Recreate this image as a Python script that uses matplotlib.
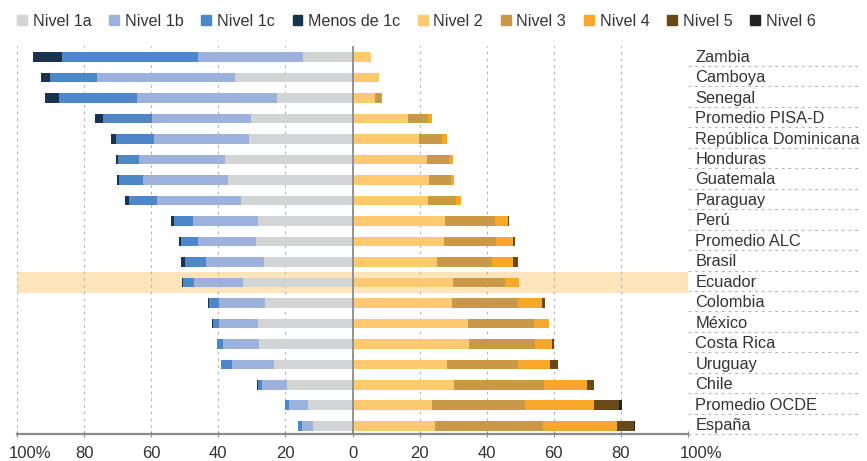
import numpy as np
import matplotlib
matplotlib.use("Agg")
import matplotlib.pyplot as plt
import matplotlib.transforms as mtransforms
from matplotlib.patches import Patch

plt.rcParams['font.family'] = ['Liberation Sans', 'DejaVu Sans']

# ----> Data <----
countries = ['Zambia', 'Camboya', 'Senegal', 'Promedio PISA-D', 'República Dominicana',
             'Honduras', 'Guatemala', 'Paraguay', 'Perú', 'Promedio ALC', 'Brasil',
             'Ecuador', 'Colombia', 'México', 'Costa Rica', 'Uruguay', 'Chile',
             'Promedio OCDE', 'España']

# below level 2 (drawn to the left)
nivel_1a = [14.7, 34.9, 22.4, 30.4, 30.8, 38.0, 37.1, 33.2, 28.2, 28.8, 26.4, 32.6, 26.1, 28.3, 28.0, 23.4, 19.5, 13.4, 11.9]
nivel_1b = [31.5, 41.4, 41.7, 29.3, 28.4, 25.7, 25.3, 25.1, 19.3, 17.2, 17.4, 14.7, 13.8, 11.5, 10.7, 12.6, 7.6, 5.5, 3.3]
nivel_1c = [40.5, 13.9, 23.5, 14.6, 11.4, 6.2, 7.2, 8.3, 5.8, 5.0, 6.2, 3.1, 2.9, 1.9, 1.6, 3.1, 1.2, 1.1, 1.0]
menos_1c = [8.5, 2.5, 4.0, 2.5, 1.5, 0.6, 0.5, 1.2, 0.7, 0.6, 1.0, 0.3, 0.2, 0.1, 0.1, 0.2, 0.1, 0.1, 0.1]

# level 2 and above (drawn to the right)
nivel_2 = [5.4, 7.8, 6.7, 16.5, 19.8, 22.1, 22.7, 22.5, 27.5, 27.2, 25.2, 30.0, 29.5, 34.5, 34.8, 28.2, 30.2, 23.6, 24.7]
nivel_3 = [0.0, 0.0, 2.2, 5.9, 6.9, 6.6, 6.7, 8.4, 15.0, 15.5, 16.3, 15.3, 19.9, 19.6, 19.5, 21.2, 26.9, 27.9, 32.1]
nivel_4 = [0.0, 0.0, 0.0, 1.2, 1.5, 1.3, 0.7, 1.5, 3.7, 5.2, 6.4, 4.4, 7.2, 4.4, 5.2, 9.4, 12.8, 20.6, 21.9]
nivel_5 = [0.0, 0.0, 0.0, 0.0, 0.0, 0.0, 0.0, 0.0, 0.4, 0.6, 1.4, 0.0, 0.7, 0.2, 0.4, 2.5, 2.0, 7.2, 5.2]
nivel_6 = [0.0, 0.0, 0.0, 0.0, 0.0, 0.0, 0.0, 0.0, 0.0, 0.0, 0.0, 0.0, 0.0, 0.0, 0.0, 0.0, 0.0, 1.0, 0.2]

highlight = 'Ecuador'
x_ticks = [-100, -80, -60, -40, -20, 0, 20, 40, 60, 80, 100]
x_tick_labels = ['100%', '80', '60', '40', '20', '0', '20', '40', '60', '80', '100%']

left_series = [('Nivel 1a', nivel_1a, '#D3D4D6'),
               ('Nivel 1b', nivel_1b, '#9CB2DD'),
               ('Nivel 1c', nivel_1c, '#4E87C7'),
               ('Menos de 1c', menos_1c, '#19324D')]
right_series = [('Nivel 2', nivel_2, '#FFC970'),
                ('Nivel 3', nivel_3, '#C99947'),
                ('Nivel 4', nivel_4, '#F9A72A'),
                ('Nivel 5', nivel_5, '#684A1A'),
                ('Nivel 6', nivel_6, '#222222')]

# ----> Chart <----
fig = plt.figure(figsize=(8.67, 4.61), dpi=100)
ax = fig.add_axes([0.0196, 0.0586, 0.774, 0.842])

y = np.arange(len(countries))
bar_h = 0.47

# highlight band
hi = countries.index(highlight)
ax.axhspan(hi - 0.5, hi + 0.5, xmin=0, xmax=1, color='#FDE4BA', zorder=0, lw=0)

cum = np.zeros(len(countries))
for name, vals, col in left_series:
    vals = np.array(vals)
    ax.barh(y, -vals, left=-cum, height=bar_h, color=col, zorder=2, lw=0)
    cum += vals

cum = np.zeros(len(countries))
for name, vals, col in right_series:
    vals = np.array(vals)
    ax.barh(y, vals, left=cum, height=bar_h, color=col, zorder=2, lw=0)
    cum += vals

# grid
for xv in x_ticks:
    if xv == 0:
        continue
    ax.axvline(xv, color='#B5B5B5', lw=0.8, ls=(0, (2.5, 3.5)), zorder=1)
ax.axvline(0, color='#8A8A8A', lw=1.3, zorder=3)

# labels on the right with dotted separators
for i, name in enumerate(countries):
    ax.text(102.2, i, name, va='center', ha='left', fontsize=11.8, color='#333333', clip_on=False)
    ax.plot([100, 151.5], [i + 0.42, i + 0.42], color='#B5B5B5', lw=0.8,
            ls=(0, (2.5, 3.5)), clip_on=False, zorder=1)

ax.set_xlim(-100, 100)
ax.set_ylim(18.4, -0.55)
ax.set_yticks([])
ax.set_xticks(x_ticks)
ax.set_xticklabels(x_tick_labels, fontsize=12, color='#333333')
ax.tick_params(axis='x', direction='inout', length=5, width=0.8, color='#8A8A8A', pad=6)
for side in ['top', 'right', 'left']:
    ax.spines[side].set_visible(False)
ax.spines['bottom'].set_color('#8A8A8A')
ax.spines['bottom'].set_linewidth(1.6)

labels = ax.get_xticklabels()
shift = mtransforms.ScaledTranslation(-8 / 100, 0, fig.dpi_scale_trans)
for lab in (labels[0], labels[-1]):
    lab.set_horizontalalignment('left')
    lab.set_transform(lab.get_transform() + shift)

handles = [Patch(color=c, label=n) for n, v, c in left_series + right_series]
fig.legend(handles=handles, loc='upper left', bbox_to_anchor=(0.007, 0.995), ncol=9,
           frameon=False, fontsize=11.6, handlelength=0.6, handleheight=0.6,
           handletextpad=0.35, columnspacing=1.12, borderpad=0.2, labelcolor='#333333')

fig.savefig('out.png', dpi=100)
